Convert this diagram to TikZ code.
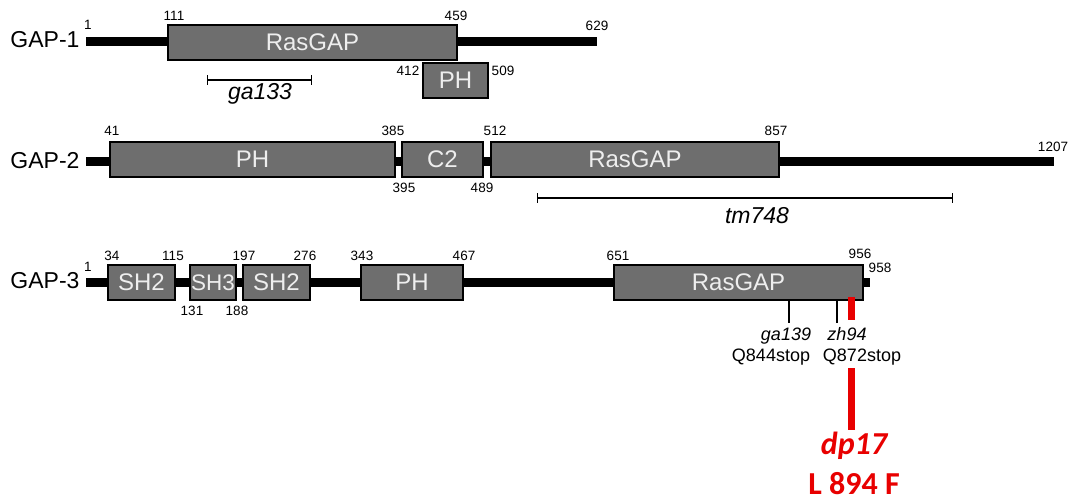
\documentclass[tikz,border=0pt]{standalone}
\usepackage{fontspec}
\setmainfont{Liberation Sans}
\newfontfamily\calib{Carlito}
\definecolor{domfill}{RGB}{110,110,110}
\definecolor{domtext}{RGB}{238,238,238}
\definecolor{mutred}{RGB}{232,0,0}
\begin{document}
\begin{tikzpicture}[x=1pt,y=-1pt,
  dom/.style={draw=black, line width=1.3pt, fill=domfill, text=domtext,
    font=\fontsize{24}{28}\selectfont, inner sep=0pt, minimum height=35pt},
  num/.style={font=\fontsize{13.5}{16}\selectfont, inner sep=0pt},
  pname/.style={font=\fontsize{23}{27}\selectfont, inner sep=0pt, anchor=base},
  allele/.style={font=\fontsize{23}{27}\selectfont\itshape, inner sep=0pt, anchor=base},
  mlabel/.style={font=\fontsize{18}{21}\selectfont, inner sep=0pt, anchor=base},
  mital/.style={font=\fontsize{18}{21}\selectfont\itshape, inner sep=0pt, anchor=base},
  protbar/.style={fill=black},
  span/.style={line width=1.4pt, |-|},
  mutline/.style={line width=1.5pt},
  redline/.style={line width=7pt, draw=mutred},
  redtxt/.style={text=mutred, font=\calib\bfseries\fontsize{32}{36}\selectfont, inner sep=0pt, anchor=base}
]
\useasboundingbox (0,0) rectangle (1073,502);

% ---------------- GAP-1 ----------------
\node[pname] (n1) at (45,48) {GAP-1};
\fill[protbar] (86,37) rectangle (597,46);
\node[dom, minimum width=289pt] (g1ras) at (312.5,42.5) {RasGAP};
\node[dom, minimum width=65pt] (g1ph) at (455.5,80.5) {PH};
\node[num] (g1a) at (88,25) {1};
\node[num] (g1b) at (174,15.5) {111};
\node[num] (g1c) at (456,15.5) {459};
\node[num] (g1d) at (597,26) {629};
\node[num] (g1e) at (408,70.5) {412};
\node[num] (g1f) at (503,70.5) {509};
\coordinate (ga133a) at (207,80);
\coordinate (ga133b) at (312,80);
\draw[span] (ga133a) -- (ga133b);
\node[allele] (ga133) at (260,100) {ga133};

% ---------------- GAP-2 ----------------
\node[pname] (n2) at (45,169) {GAP-2};
\fill[protbar] (86,157) rectangle (1054,166);
\node[dom, minimum width=285pt] (g2ph) at (252.5,159.5) {PH};
\node[dom, minimum width=81pt] (g2c2) at (442.5,159.5) {C2};
\node[dom, minimum width=288pt] (g2ras) at (635,159.5) {RasGAP};
\node[num] (g2a) at (112,131) {41};
\node[num] (g2b) at (393,131) {385};
\node[num] (g2c) at (404,188) {395};
\node[num] (g2d) at (482,188) {489};
\node[num] (g2e) at (495,131) {512};
\node[num] (g2f) at (776,131) {857};
\node[num] (g2g) at (1053,147) {1207};
\coordinate (tm748a) at (537,198);
\coordinate (tm748b) at (953,198);
\draw[span] (tm748a) -- (tm748b);
\node[allele] (tm748) at (757,224) {tm748};

% ---------------- GAP-3 ----------------
\node[pname] (n3) at (45,289) {GAP-3};
\fill[protbar] (86,278) rectangle (870,287);
\node[dom, minimum width=67pt] (g3sh2a) at (141.5,282.5) {SH2};
\node[dom, minimum width=46pt, font=\fontsize{22.5}{26}\selectfont] (g3sh3) at (213,282.5) {SH3};
\node[dom, minimum width=67pt] (g3sh2b) at (276.5,282.5) {SH2};
\node[dom, minimum width=102pt] (g3ph) at (412,282.5) {PH};
\node[dom, minimum width=249pt] (g3ras) at (738.5,282.5) {RasGAP};
\node[num] (g3a) at (88,267) {1};
\node[num] (g3b) at (112,256) {34};
\node[num] (g3c) at (173,256) {115};
\node[num] (g3d) at (244,256) {197};
\node[num] (g3e) at (305,256) {276};
\node[num] (g3f) at (362,256) {343};
\node[num] (g3g) at (464,256) {467};
\node[num] (g3h) at (618,256) {651};
\node[num] (g3i) at (860,254) {956};
\node[num] (g3j) at (880,268) {958};
\node[num] (g3k) at (192,311) {131};
\node[num] (g3l) at (237,311) {188};

% mutations
\coordinate (m1a) at (789,300);
\coordinate (m1b) at (789,323);
\coordinate (m2a) at (837,300);
\coordinate (m2b) at (837,323);
\draw[mutline] (m1a) -- (m1b);
\draw[mutline] (m2a) -- (m2b);
\coordinate (r1a) at (851,297);
\coordinate (r1b) at (851,320);
\coordinate (r2a) at (851,368);
\coordinate (r2b) at (851,430);
\draw[redline] (r1a) -- (r1b);
\draw[redline] (r2a) -- (r2b);

\node[mital] (ga139) at (786,341) {ga139};
\node[mital] (zh94) at (847,341) {zh94};
\node[mlabel] (q844) at (771,361) {Q844stop};
\node[mlabel] (q872) at (862,361) {Q872stop};
\node[redtxt, font=\calib\bfseries\itshape\fontsize{32}{36}\selectfont] (dp17) at (854,454) {dp17};
\node[redtxt] (l894) at (854,494) {L 894 F};
\end{tikzpicture}
\end{document}
